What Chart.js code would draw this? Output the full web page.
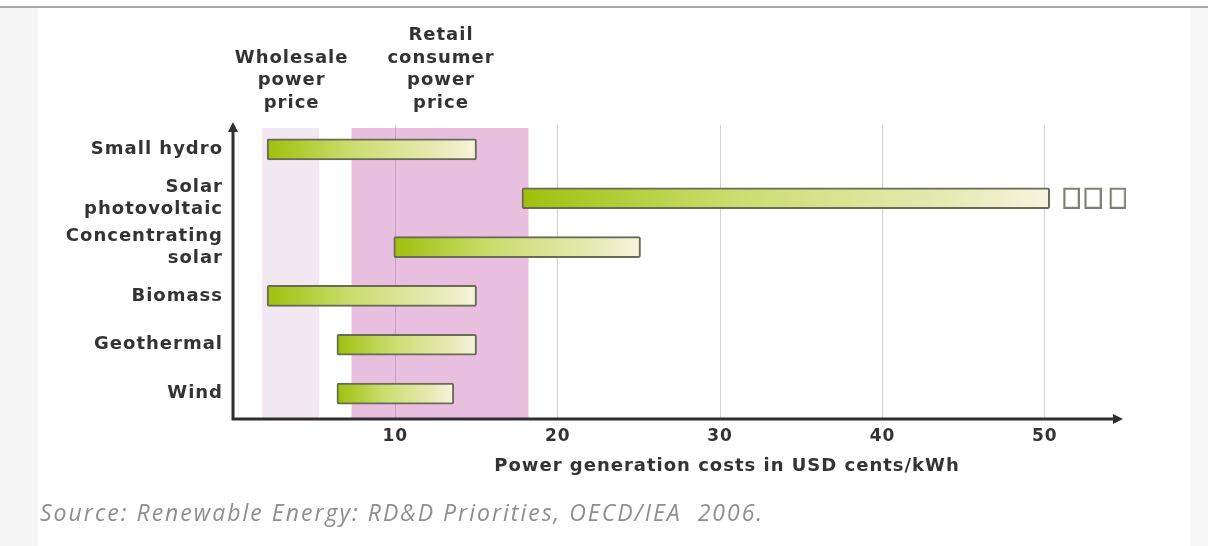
<!DOCTYPE html>
<html>
<head>
<meta charset="utf-8">
<title>Power generation costs</title>
<script src="https://cdn.jsdelivr.net/npm/chart.js@4/dist/chart.umd.min.js"></script>
<style>
	body { margin: 0; background: #fff; }
	#wrap { position: relative; width: 1208px; height: 546px; overflow: hidden; background: #fff; }
	#topRule { position: absolute; left: 0; top: 6px; width: 1208px; height: 2px; background: #a9a9a9; }
	#leftEdge { position: absolute; left: 0; top: 8px; width: 38px; height: 538px; background: #f5f5f5; }
	#rightEdge { position: absolute; left: 1190px; top: 8px; width: 18px; height: 538px; background: #f7f7f7; }
	#chart { position: absolute; left: 0; top: 0; }
	#source { position: absolute; left: 40px; top: 496px; font: italic 23px "Open Sans"; letter-spacing: 2px; color: #8e8e8e; white-space: pre; }
</style>
</head>
<body>
<div id="wrap">
	<div id="topRule"></div>
	<div id="leftEdge"></div>
	<div id="rightEdge"></div>
	<canvas id="chart" width="1208" height="546"></canvas>
	<div id="source">Source: Renewable Energy: RD&amp;D Priorities, OECD/IEA  2006.</div>
</div>
<script>
const categories = ["Small hydro", ["Solar", "photovoltaic"], ["Concentrating", "solar"], "Biomass", "Geothermal", "Wind"];
const costLow = [2.1, 17.8, 9.9, 2.1, 6.4, 6.4];
const costHigh = [15.0, 50.3, 25.1, 15.0, 15.0, 13.6];

// the "continues off the scale" boxes after the solar PV bar
const continuedRow = 1;
const continuedLow = [51.15, 52.45, 54.0];
const continuedHigh = [52.15, 53.5, 55.0];

const bandNames = [["Wholesale", "power", "price"], ["Retail", "consumer", "power", "price"]];
const bandLow = [1.8, 7.3];
const bandHigh = [5.3, 18.2];
const bandColors = ["#f3e7f2", "#e9bfdf"];

const xTicks = [10, 20, 30, 40, 50];
const xMin = 0;
const xMax = 55;
const xTitle = "Power generation costs in USD cents/kWh";

document.addEventListener("DOMContentLoaded", () => {
	const labelFont = { family: "DejaVu Sans", size: 18, weight: "bold" };
	const fontString = "bold 18px 'DejaVu Sans'";
	const textColor = "#333333";
	const spacing = "1px";

	function barGradient(context) {
		const chart = context.chart;
		const raw = context.raw;
		if (!chart.chartArea || !raw) return "#c4d94a";
		const x = chart.scales.x;
		const g = chart.ctx.createLinearGradient(x.getPixelForValue(raw[0]), 0, x.getPixelForValue(raw[1]), 0);
		g.addColorStop(0, "#9fc00c");
		g.addColorStop(0.4, "#cbdd6e");
		g.addColorStop(0.8, "#e5eab2");
		g.addColorStop(1, "#f7f4de");
		return g;
	}

	const spacingPlugin = {
		id: "spacing",
		afterInit(chart) { chart.ctx.letterSpacing = spacing; },
		beforeUpdate(chart) { chart.ctx.letterSpacing = spacing; },
		beforeDraw(chart) { chart.ctx.letterSpacing = spacing; },
	};

	const bandsPlugin = {
		id: "bands",
		beforeDraw(chart) {
			const { ctx, chartArea } = chart;
			const x = chart.scales.x;
			ctx.save();
			bandLow.forEach((lo, i) => {
				const x0 = x.getPixelForValue(lo);
				const x1 = x.getPixelForValue(bandHigh[i]);
				ctx.fillStyle = bandColors[i];
				ctx.fillRect(x0, chartArea.top + 3, x1 - x0, chartArea.bottom - chartArea.top - 3);

				// heading above each band
				ctx.font = fontString;
				ctx.fillStyle = textColor;
				ctx.textAlign = "center";
				ctx.textBaseline = "middle";
				const lines = bandNames[i];
				const cx = (x0 + x1) / 2 + 1;
				lines.forEach((line, j) => {
					ctx.fillText(line, cx, chartArea.top - 22 - (lines.length - 1 - j) * 22.5);
				});
			});
			ctx.restore();
		},
	};

	const axesPlugin = {
		id: "arrowAxes",
		afterDraw(chart) {
			const { ctx, chartArea } = chart;
			const left = chartArea.left;
			const bottom = chartArea.bottom + 1;
			const top = chartArea.top - 3;
			const right = chartArea.right - 3;
			ctx.save();
			ctx.strokeStyle = "#2e2e2e";
			ctx.fillStyle = "#2e2e2e";
			ctx.lineWidth = 3;
			ctx.beginPath();
			ctx.moveTo(left, top + 6);
			ctx.lineTo(left, bottom);
			ctx.lineTo(right - 8, bottom);
			ctx.stroke();
			ctx.beginPath();
			ctx.moveTo(left, top);
			ctx.lineTo(left - 5, top + 10);
			ctx.lineTo(left + 5, top + 10);
			ctx.closePath();
			ctx.fill();
			ctx.beginPath();
			ctx.moveTo(right, bottom);
			ctx.lineTo(right - 10, bottom - 5);
			ctx.lineTo(right - 10, bottom + 5);
			ctx.closePath();
			ctx.fill();

			ctx.font = fontString;
			ctx.fillStyle = textColor;
			ctx.textAlign = "center";
			ctx.textBaseline = "middle";
			ctx.fillText(xTitle, 727, bottom + 47);
			ctx.restore();
		},
	};

	const rangeSet = {
		label: "Cost range",
		data: costLow.map((v, i) => [v, costHigh[i]]),
		backgroundColor: barGradient,
		borderColor: "#6a6a58",
		borderWidth: 2,
		borderSkipped: false,
		borderRadius: 2,
		barThickness: 21,
		grouped: false,
	};

	const continuedSets = continuedLow.map((v, i) => ({
		label: "continued " + (i + 1),
		data: categories.map((c, j) => (j === continuedRow ? [v, continuedHigh[i]] : null)),
		backgroundColor: "rgba(255, 255, 255, 0.5)",
		borderColor: "#808074",
		borderWidth: 2,
		borderSkipped: false,
		barThickness: 21,
		grouped: false,
	}));

	new Chart(document.getElementById("chart"), {
		type: "bar",
		data: {
			labels: categories,
			datasets: [rangeSet, ...continuedSets],
		},
		plugins: [spacingPlugin, bandsPlugin, axesPlugin],
		options: {
			indexAxis: "y",
			responsive: false,
			animation: false,
			layout: { padding: { top: 125, right: 82, left: 0, bottom: 0 } },
			plugins: {
				legend: { display: false },
				tooltip: { enabled: false },
			},
			scales: {
				x: {
					min: xMin,
					max: xMax,
					afterBuildTicks: (axis) => {
						axis.ticks = xTicks.map((v) => ({ value: v }));
					},
					afterFit: (scale) => {
						scale.height = 128;
					},
					grid: { color: "rgba(90, 90, 90, 0.28)", lineWidth: 1, drawTicks: false },
					border: { display: false },
					ticks: { font: { ...labelFont, size: 17 }, color: textColor, padding: 8 },
				},
				y: {
					afterFit: (scale) => {
						scale.width = 233;
					},
					grid: { display: false, drawTicks: false },
					border: { display: false },
					ticks: {
						font: { ...labelFont, lineHeight: 1.2 },
						color: textColor,
						padding: 10,
					},
				},
			},
		},
	});
});
</script>
</body>
</html>
